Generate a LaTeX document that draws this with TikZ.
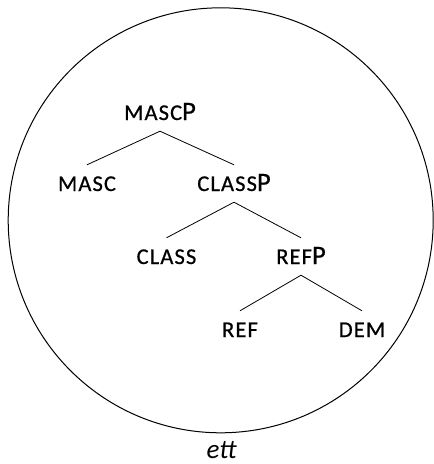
\documentclass[tikz,border=0pt]{standalone}
\usepackage{fontspec}
\setmainfont{Carlito}
\newcommand{\smc}[1]{{\fontsize{22.5}{22.5}\selectfont\addfontfeature{LetterSpace=5,FakeBold=0.7}#1}}
\newcommand{\bigP}{{\fontsize{26.5}{26.5}\selectfont\addfontfeature{FakeBold=0.7}P}}
\begin{document}
\begin{tikzpicture}[x=1pt,y=-1pt,
  lbl/.style={anchor=base, inner sep=0pt, text height=26pt, text depth=11pt},
  edge/.style={line width=0.8pt}]
\useasboundingbox (0,0) rectangle (434,464);
\node[draw, circle, inner sep=0pt, minimum size=425pt, line width=1pt] (frame) at (220.7,220.3) {};
\node[lbl] (mascp) at (160,120) {\smc{MASC}\bigP};
\node[lbl] (masc) at (87,191) {\smc{MASC}};
\node[lbl] (classp) at (234,191) {\smc{CLASS}\bigP};
\node[lbl] (class) at (166.5,264) {\smc{CLASS}};
\node[lbl] (refp) at (301,264) {\smc{REF}\bigP};
\node[lbl] (ref) at (240,337) {\smc{REF}};
\node[lbl] (dem) at (362,337) {\smc{DEM}};
\node[anchor=base, inner sep=0pt, font=\itshape\fontsize{27}{27}\selectfont] (ett) at (221.5,458) {ett};
\draw[edge] (mascp.south) -- (masc.north);
\draw[edge] (mascp.south) -- (classp.north);
\draw[edge] (classp.south) -- (class.north);
\draw[edge] (classp.south) -- (refp.north);
\draw[edge] (refp.south) -- (ref.north);
\draw[edge] (refp.south) -- (dem.north);
\end{tikzpicture}
\end{document}
